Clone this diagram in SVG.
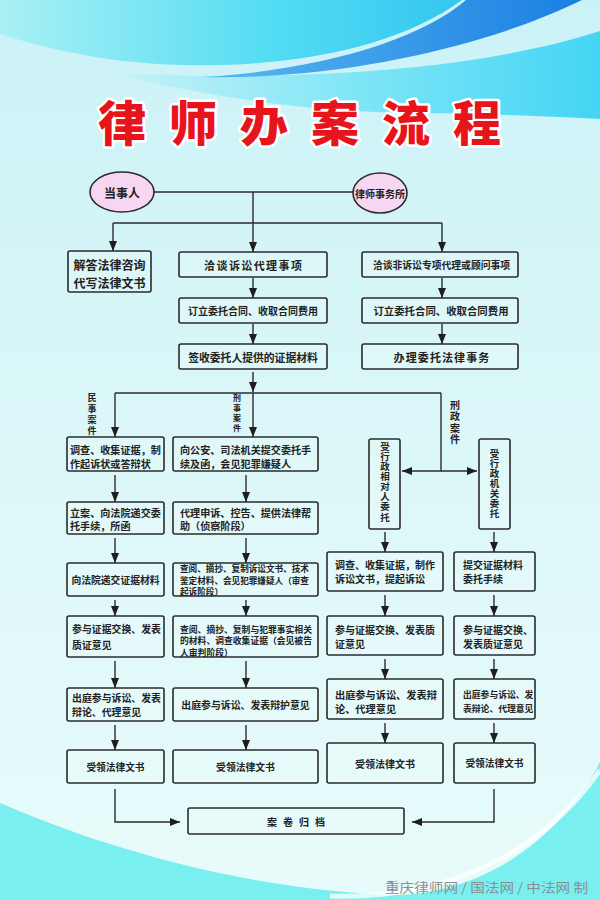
<svg xmlns="http://www.w3.org/2000/svg" width="600" height="900" viewBox="0 0 600 900">
<defs>
<linearGradient id="bg" x1="0" y1="0" x2="0" y2="1">
<stop offset="0" stop-color="#cbf2f7"/>
<stop offset="0.5" stop-color="#dcf7f8"/>
<stop offset="1" stop-color="#e8fbfb"/>
</linearGradient>
<linearGradient id="sw1" x1="0" y1="0" x2="1" y2="0">
<stop offset="0" stop-color="#aaf0f4"/>
<stop offset="0.6" stop-color="#52dcf3"/>
<stop offset="1" stop-color="#34c6f0"/>
</linearGradient>
<linearGradient id="sw2" x1="0" y1="0" x2="1" y2="0">
<stop offset="0" stop-color="#5ab8f0"/>
<stop offset="1" stop-color="#1a7fe2"/>
</linearGradient>
<linearGradient id="sw3" x1="0" y1="0" x2="1" y2="0">
<stop offset="0" stop-color="#c8f2f8"/>
<stop offset="0.5" stop-color="#7fe6f6"/>
<stop offset="1" stop-color="#44d4f4"/>
</linearGradient>
<marker id="ah" viewBox="0 0 10 8" refX="10" refY="4" markerWidth="10" markerHeight="8" markerUnits="userSpaceOnUse" orient="auto-start-reverse">
<path d="M0,0 L10,4 L0,8 Z" fill="#1e1e1e"/>
</marker>
<style>
.bx{fill:#effdfd;fill-opacity:.3;stroke:#2b2b2b;stroke-width:1.6}
.el{fill:#f6d6f1;stroke:#2b2b2b;stroke-width:1.6}
.cn{fill:none;stroke:#2b2b2b;stroke-width:1.4}
.ar{fill:none;stroke:#2b2b2b;stroke-width:1.4;marker-end:url(#ah)}
.t{font-family:"Noto Sans CJK SC","Noto Sans",sans-serif;font-weight:700;fill:#222;dominant-baseline:central}
.m{text-anchor:middle}
.v{writing-mode:vertical-rl;text-anchor:middle}
</style>
</defs>

<g id="background">
<rect width="600" height="900" fill="url(#bg)"/>
<path d="M0,0 H462 C400,45 300,68 180,65 C110,63 50,50 0,34 Z" fill="url(#sw1)"/>
<path d="M600,31 C480,70 300,82 111,73 C200,95 300,112 420,113 C500,114 560,117 600,119 Z" fill="url(#sw3)"/>
<path d="M466,0 C420,40 320,70 203,77 C330,80 480,50 582,0 Z" fill="url(#sw2)"/>
<path d="M0,803 C120,855 260,890 390,895 C480,896 560,840 600,762 V900 H0 Z" fill="#7aeff0"/>
<path d="M330,896 C450,900 545,850 600,770" fill="none" stroke="#ffffff" stroke-width="5" stroke-opacity="0.75"/>
</g>

<g id="title">
<text x="98" y="120" font-family="'Noto Sans CJK SC',sans-serif" font-weight="900" font-size="48" letter-spacing="23" fill="#e8141c" stroke="#ffffff" stroke-width="5" paint-order="stroke" stroke-linejoin="round" dominant-baseline="central">律师办案流程</text>
</g>

<g id="connectors">
<line class="cn" x1="154" y1="192" x2="353" y2="192"/>
<line class="cn" x1="253" y1="192" x2="253" y2="223"/>
<line class="cn" x1="113" y1="223" x2="442" y2="223"/>
<line class="ar" x1="113" y1="223" x2="113" y2="251"/>
<line class="ar" x1="253" y1="223" x2="253" y2="252"/>
<line class="ar" x1="442" y1="223" x2="442" y2="252"/>
<line class="ar" x1="253" y1="278" x2="253" y2="298"/>
<line class="ar" x1="442" y1="278" x2="442" y2="298"/>
<line class="ar" x1="253" y1="324" x2="253" y2="344"/>
<line class="ar" x1="442" y1="324" x2="442" y2="344"/>
<line class="ar" x1="253" y1="372" x2="253" y2="392"/>
<line class="cn" x1="115" y1="393" x2="441" y2="393"/>
<line class="ar" x1="115" y1="393" x2="115" y2="437"/>
<line class="ar" x1="253" y1="393" x2="253" y2="437"/>
<line class="cn" x1="441" y1="393" x2="441" y2="471"/>
<line class="ar" x1="402" y1="471" x2="477" y2="471" marker-start="url(#ah)"/>
<line class="ar" x1="115" y1="475" x2="115" y2="502"/>
<line class="ar" x1="115" y1="538" x2="115" y2="563"/>
<line class="ar" x1="115" y1="600" x2="115" y2="616"/>
<line class="ar" x1="115" y1="661" x2="115" y2="688"/>
<line class="ar" x1="115" y1="725" x2="115" y2="750"/>
<line class="ar" x1="246" y1="475" x2="246" y2="502"/>
<line class="ar" x1="246" y1="538" x2="246" y2="563"/>
<line class="ar" x1="246" y1="600" x2="246" y2="616"/>
<line class="ar" x1="246" y1="661" x2="246" y2="688"/>
<line class="ar" x1="246" y1="725" x2="246" y2="750"/>
<line class="ar" x1="385" y1="532" x2="385" y2="552"/>
<line class="ar" x1="385" y1="595" x2="385" y2="616"/>
<line class="ar" x1="385" y1="659" x2="385" y2="679"/>
<line class="ar" x1="385" y1="723" x2="385" y2="743"/>
<line class="ar" x1="494" y1="532" x2="494" y2="552"/>
<line class="ar" x1="494" y1="595" x2="494" y2="616"/>
<line class="ar" x1="494" y1="659" x2="494" y2="679"/>
<line class="ar" x1="494" y1="723" x2="494" y2="743"/>
<polyline class="ar" points="115,789 115,822 180,822"/>
<polyline class="ar" points="494,789 494,822 412,822"/>
<text class="t v" x="92" y="415.5" font-size="9" letter-spacing="2">民事案件</text>
<text class="t v" x="237" y="414" font-size="8" letter-spacing="2">刑事案件</text>
<text class="t v" x="455" y="423" font-size="10" font-weight="500" letter-spacing="1.5">刑政案件</text>
</g>

<g id="n1"><ellipse class="el" cx="122" cy="192" rx="32" ry="20"/><text class="t m" x="122" y="192" font-size="12">当事人</text></g>
<g id="n2"><ellipse class="el" cx="380" cy="193" rx="27" ry="20"/><text class="t m" x="380" y="193" font-size="10">律师事务所</text></g>
<g id="n3"><rect class="bx" x="68" y="251" width="83" height="41" rx="2"/><text class="t m" font-size="12"><tspan x="109.5" y="264">解答法律咨询</tspan><tspan x="109.5" y="282">代写法律文书</tspan></text></g>
<g id="n4"><rect class="bx" x="179" y="252" width="148" height="25" rx="2"/><text class="t m" x="253.7" y="264.5" font-size="11" letter-spacing="1.4">洽谈诉讼代理事项</text></g>
<g id="n5"><rect class="bx" x="362" y="252" width="156" height="25" rx="2"/><text class="t m" x="441.5" y="264.5" font-size="9.8">洽谈非诉讼专项代理或顾问事项</text></g>
<g id="n6"><rect class="bx" x="179" y="298" width="148" height="25" rx="2"/><text class="t m" x="253" y="310.5" font-size="10">订立委托合同、收取合同费用</text></g>
<g id="n7"><rect class="bx" x="362" y="298" width="156" height="25" rx="2"/><text class="t m" x="441" y="310.5" font-size="10.4">订立委托合同、收取合同费用</text></g>
<g id="n8"><rect class="bx" x="179" y="344" width="148" height="25" rx="2"/><text class="t m" x="253" y="356.5" font-size="10.8">签收委托人提供的证据材料</text></g>
<g id="n9"><rect class="bx" x="362" y="344" width="156" height="25" rx="2"/><text class="t m" x="442" y="356.5" font-size="11" letter-spacing="1.1">办理委托法律事务</text></g>
<g id="n10"><rect class="bx" x="67" y="437" width="97" height="34" rx="2"/><text class="t" font-size="10.1"><tspan x="70" y="449">调查、收集证据，制</tspan><tspan x="70" y="462.5">作起诉状或答辩状</tspan></text></g>
<g id="n11"><rect class="bx" x="173" y="437" width="145" height="34" rx="2"/><text class="t" font-size="10.1"><tspan x="180" y="449">向公安、司法机关提交委托手</tspan><tspan x="180" y="462.5">续及函，会见犯罪嫌疑人</tspan></text></g>
<g id="n12"><rect class="bx" x="369" y="439" width="31" height="90" rx="2"/><text class="t v" x="385" y="481.8" font-size="9.5" letter-spacing="0.64">受行政相对人委托</text></g>
<g id="n13"><rect class="bx" x="479" y="439" width="31" height="90" rx="2"/><text class="t v" x="494.5" y="483.3" font-size="9.5" letter-spacing="0.5">受行政机关委托</text></g>
<g id="n14"><rect class="bx" x="67" y="502" width="97" height="32" rx="2"/><text class="t" font-size="10.1"><tspan x="70" y="511.5">立案、向法院递交委</tspan><tspan x="70" y="525">托手续，所函</tspan></text></g>
<g id="n15"><rect class="bx" x="173" y="502" width="145" height="32" rx="2"/><text class="t" font-size="10.1"><tspan x="180" y="511.5">代理申诉、控告、提供法律帮</tspan><tspan x="180" y="525">助（侦察阶段）</tspan></text></g>
<g id="n16"><rect class="bx" x="67" y="563" width="97" height="33" rx="2"/><text class="t m" x="115.5" y="579.5" font-size="9.8">向法院递交证据材料</text></g>
<g id="n17"><rect class="bx" x="173" y="563" width="145" height="33" rx="2"/><text class="t" font-size="8.6"><tspan x="180" y="568">查阅、摘抄、复制诉讼文书、技术</tspan><tspan x="180" y="579.5">鉴定材料、会见犯罪嫌疑人（审查</tspan><tspan x="180" y="591">起诉阶段）</tspan></text></g>
<g id="n18"><rect class="bx" x="327" y="552" width="116" height="39" rx="2"/><text class="t" font-size="10"><tspan x="335" y="564">调查、收集证据，制作</tspan><tspan x="335" y="578">诉讼文书，提起诉讼</tspan></text></g>
<g id="n19"><rect class="bx" x="454" y="552" width="81" height="39" rx="2"/><text class="t" font-size="10"><tspan x="463" y="564">提交证据材料</tspan><tspan x="463" y="578">委托手续</tspan></text></g>
<g id="n20"><rect class="bx" x="67" y="616" width="97" height="41" rx="2"/><text class="t" font-size="9.9"><tspan x="72" y="629">参与证据交换、发表</tspan><tspan x="72" y="645">质证意见</tspan></text></g>
<g id="n21"><rect class="bx" x="173" y="616" width="145" height="41" rx="2"/><text class="t" font-size="8.8"><tspan x="180" y="628.5">查阅、摘抄、复制与犯罪事实相关</tspan><tspan x="180" y="640">的材料、调查收集证据（会见被告</tspan><tspan x="180" y="651.5">人审判阶段）</tspan></text></g>
<g id="n22"><rect class="bx" x="327" y="616" width="116" height="39" rx="2"/><text class="t" font-size="10"><tspan x="335" y="629">参与证据交换、发表质</tspan><tspan x="335" y="643">证意见</tspan></text></g>
<g id="n23"><rect class="bx" x="454" y="616" width="81" height="39" rx="2"/><text class="t" font-size="10"><tspan x="463" y="629">参与证据交换、</tspan><tspan x="463" y="643">发表质证意见</tspan></text></g>
<g id="n24"><rect class="bx" x="67" y="688" width="97" height="33" rx="2"/><text class="t" font-size="9.9"><tspan x="72" y="698">出庭参与诉讼、发表</tspan><tspan x="72" y="712">辩论、代理意见</tspan></text></g>
<g id="n25"><rect class="bx" x="173" y="688" width="145" height="33" rx="2"/><text class="t m" x="245.5" y="704.5" font-size="9.9">出庭参与诉讼、发表辩护意见</text></g>
<g id="n26"><rect class="bx" x="327" y="679" width="116" height="40" rx="2"/><text class="t" font-size="10.2"><tspan x="335" y="694">出庭参与诉讼、发表辩</tspan><tspan x="335" y="708">论、代理意见</tspan></text></g>
<g id="n27"><rect class="bx" x="454" y="679" width="81" height="40" rx="2"/><text class="t" font-size="8.8"><tspan x="463" y="694">出庭参与诉讼、发</tspan><tspan x="463" y="708">表辩论、代理意见</tspan></text></g>
<g id="n28"><rect class="bx" x="67" y="750" width="97" height="33" rx="2"/><text class="t m" x="115.5" y="766.5" font-size="9.7">受领法律文书</text></g>
<g id="n29"><rect class="bx" x="173" y="750" width="145" height="33" rx="2"/><text class="t m" x="245.5" y="766.5" font-size="9.8">受领法律文书</text></g>
<g id="n30"><rect class="bx" x="327" y="743" width="116" height="40" rx="2"/><text class="t m" x="385" y="763" font-size="10">受领法律文书</text></g>
<g id="n31"><rect class="bx" x="454" y="743" width="81" height="40" rx="2"/><text class="t m" x="494.5" y="763" font-size="9.7">受领法律文书</text></g>
<g id="n32"><rect class="bx" x="188" y="808" width="216" height="26" rx="2"/><text class="t m" x="299" y="821" font-size="10" letter-spacing="6">案卷归档</text></g>

<g id="footer">
<text x="588" y="886" text-anchor="end" font-family="'Noto Sans CJK SC',sans-serif" font-size="13" fill="#8a8f90" textLength="203" lengthAdjust="spacingAndGlyphs" dominant-baseline="central">重庆律师网 / 国法网 / 中法网  制</text>
</g>
</svg>
